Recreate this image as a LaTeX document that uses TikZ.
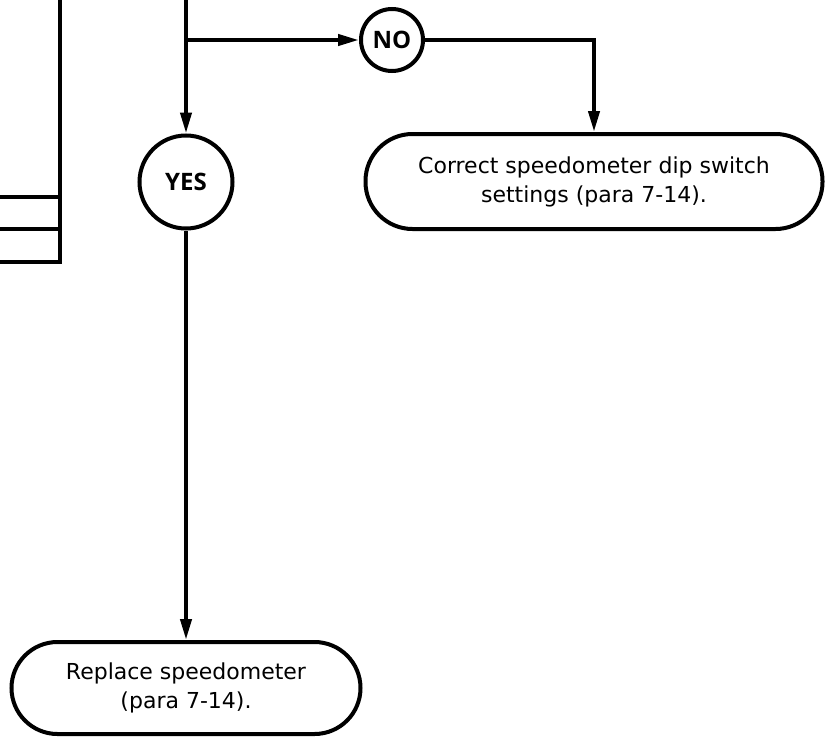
\documentclass[tikz,border=0pt]{standalone}
\usepackage{fontspec}
\setmainfont{DejaVu Sans}
\newfontfamily\lblfont{Open Sans}
\usetikzlibrary{arrows.meta}
\tikzset{
  x=1pt, y=1pt,
  thick line/.style={line width=4pt},
  flow/.style={line width=4pt, -{Triangle[length=21pt,width=11pt]}},
  answer/.style={circle, draw, line width=4pt, inner sep=0pt, font=\lblfont\bfseries\fontsize{24}{28}\selectfont},
  action/.style={draw, line width=4pt, align=center, inner sep=0pt, font=\fontsize{22}{29}\selectfont},
}
\begin{document}
\begin{tikzpicture}
\useasboundingbox (0,0) rectangle (829,-736);
\clip (0,0) rectangle (829,-736);
% partial boxes at left edge
\draw[thick line] (60,10) -- (60,-262) -- (-10,-262);
\draw[thick line] (-10,-197) -- (60,-197);
\draw[thick line] (-10,-229) -- (60,-229);
% nodes
\node[answer, minimum size=93pt] (yes) at (186,-182) {YES};
\node[answer, minimum size=62pt] (no) at (392,-40) {NO};
\node[action, minimum width=457pt, minimum height=95pt, rounded corners=47pt] (box1) at (594,-181.5)
  {Correct speedometer dip switch\\settings (para 7-14).};
\node[action, minimum width=349pt, minimum height=92pt, rounded corners=46pt] (box2) at (186,-688)
  {Replace speedometer\\(para 7-14).};
% connectors
\coordinate (top) at (186,10);
\coordinate (j) at (186,-40);
\draw[flow] (top) -- (yes.north);
\draw[flow] (j) -- (no.west);
\draw[flow] (no.east) -| (box1.north);
\draw[flow] (yes.south) -- (box2.north);
\end{tikzpicture}
\end{document}
